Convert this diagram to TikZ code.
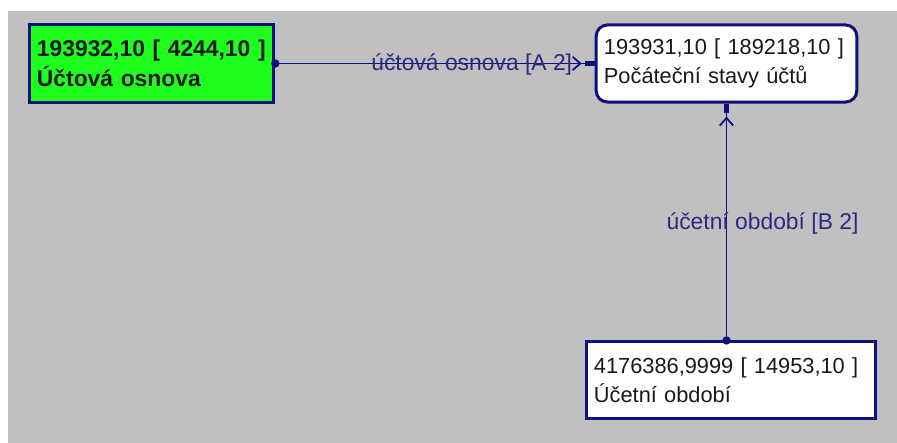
\documentclass[tikz,border=0pt]{standalone}
\usepackage{fontspec}
\setmainfont{Liberation Sans}
\usepackage{xcolor}
\definecolor{erbg}{HTML}{C0C0C0}
\definecolor{ernavy}{HTML}{10107A}
\definecolor{ergreen}{HTML}{1EFF1E}
\definecolor{erlabel}{HTML}{2A2A7E}
\usetikzlibrary{arrows.meta, positioning, calc}

\begin{document}
\begin{tikzpicture}[x=0.01cm, y=-0.01cm,
      ent/.style={draw=ernavy, line width=0.85pt, fill=white, inner xsep=2.2pt, inner ysep=0pt,
                  text width=#1, align=left, minimum height=0.77cm,
                  font=\fontsize{6.2}{8.2}\selectfont, text=black!90},
      ent/.default=2.3cm,
      rel/.style={ernavy, line width=0.5pt},
      rlabel/.style={font=\fontsize{6.5}{8.2}\selectfont, text=erlabel, inner sep=0pt},
      child/.style={-{Straight Barb[length=2.2pt,width=3.8pt,sep=0.9pt]Rectangle[length=2.8pt,width=1.3pt]}}
    ]
      % background
      \fill[white] (0,0) rectangle (897,443);
      \fill[erbg] (8,11) rectangle (897,443);

      % entities
      \node[ent=2.29cm, fill=ergreen, font=\fontsize{6.5}{8.4}\selectfont\bfseries]
        (osnova) at (151.5,63.5) {193932,10 [ 4244,10 ]\\Účtová osnova};
      \node[ent=2.45cm, rounded corners=3.2pt]
        (stavy) at (726.5,63.5) {193931,10 [ 189218,10 ]\\Počáteční stavy účtů};
      \node[ent=2.74cm, minimum height=0.76cm]
        (obdobi) at (731,380) {4176386,9999 [ 14953,10 ]\\Účetní období};

      % relations
      \draw[rel, child] (osnova) -- node[rlabel, pos=0.615, anchor=base, yshift=-1.9pt] (lbla) {účtová osnova [A 2]} (stavy);
      \fill[ernavy] (osnova.east) circle (1.2pt);

      \draw[rel, child] (obdobi.north -| stavy.south) coordinate (b1) -- node[rlabel, pos=0.47, anchor=base west, xshift=-17.3pt] (lblb) {účetní období [B 2]} (stavy.south);
      \fill[ernavy] (b1) circle (1.2pt);
    \end{tikzpicture}
\end{document}
